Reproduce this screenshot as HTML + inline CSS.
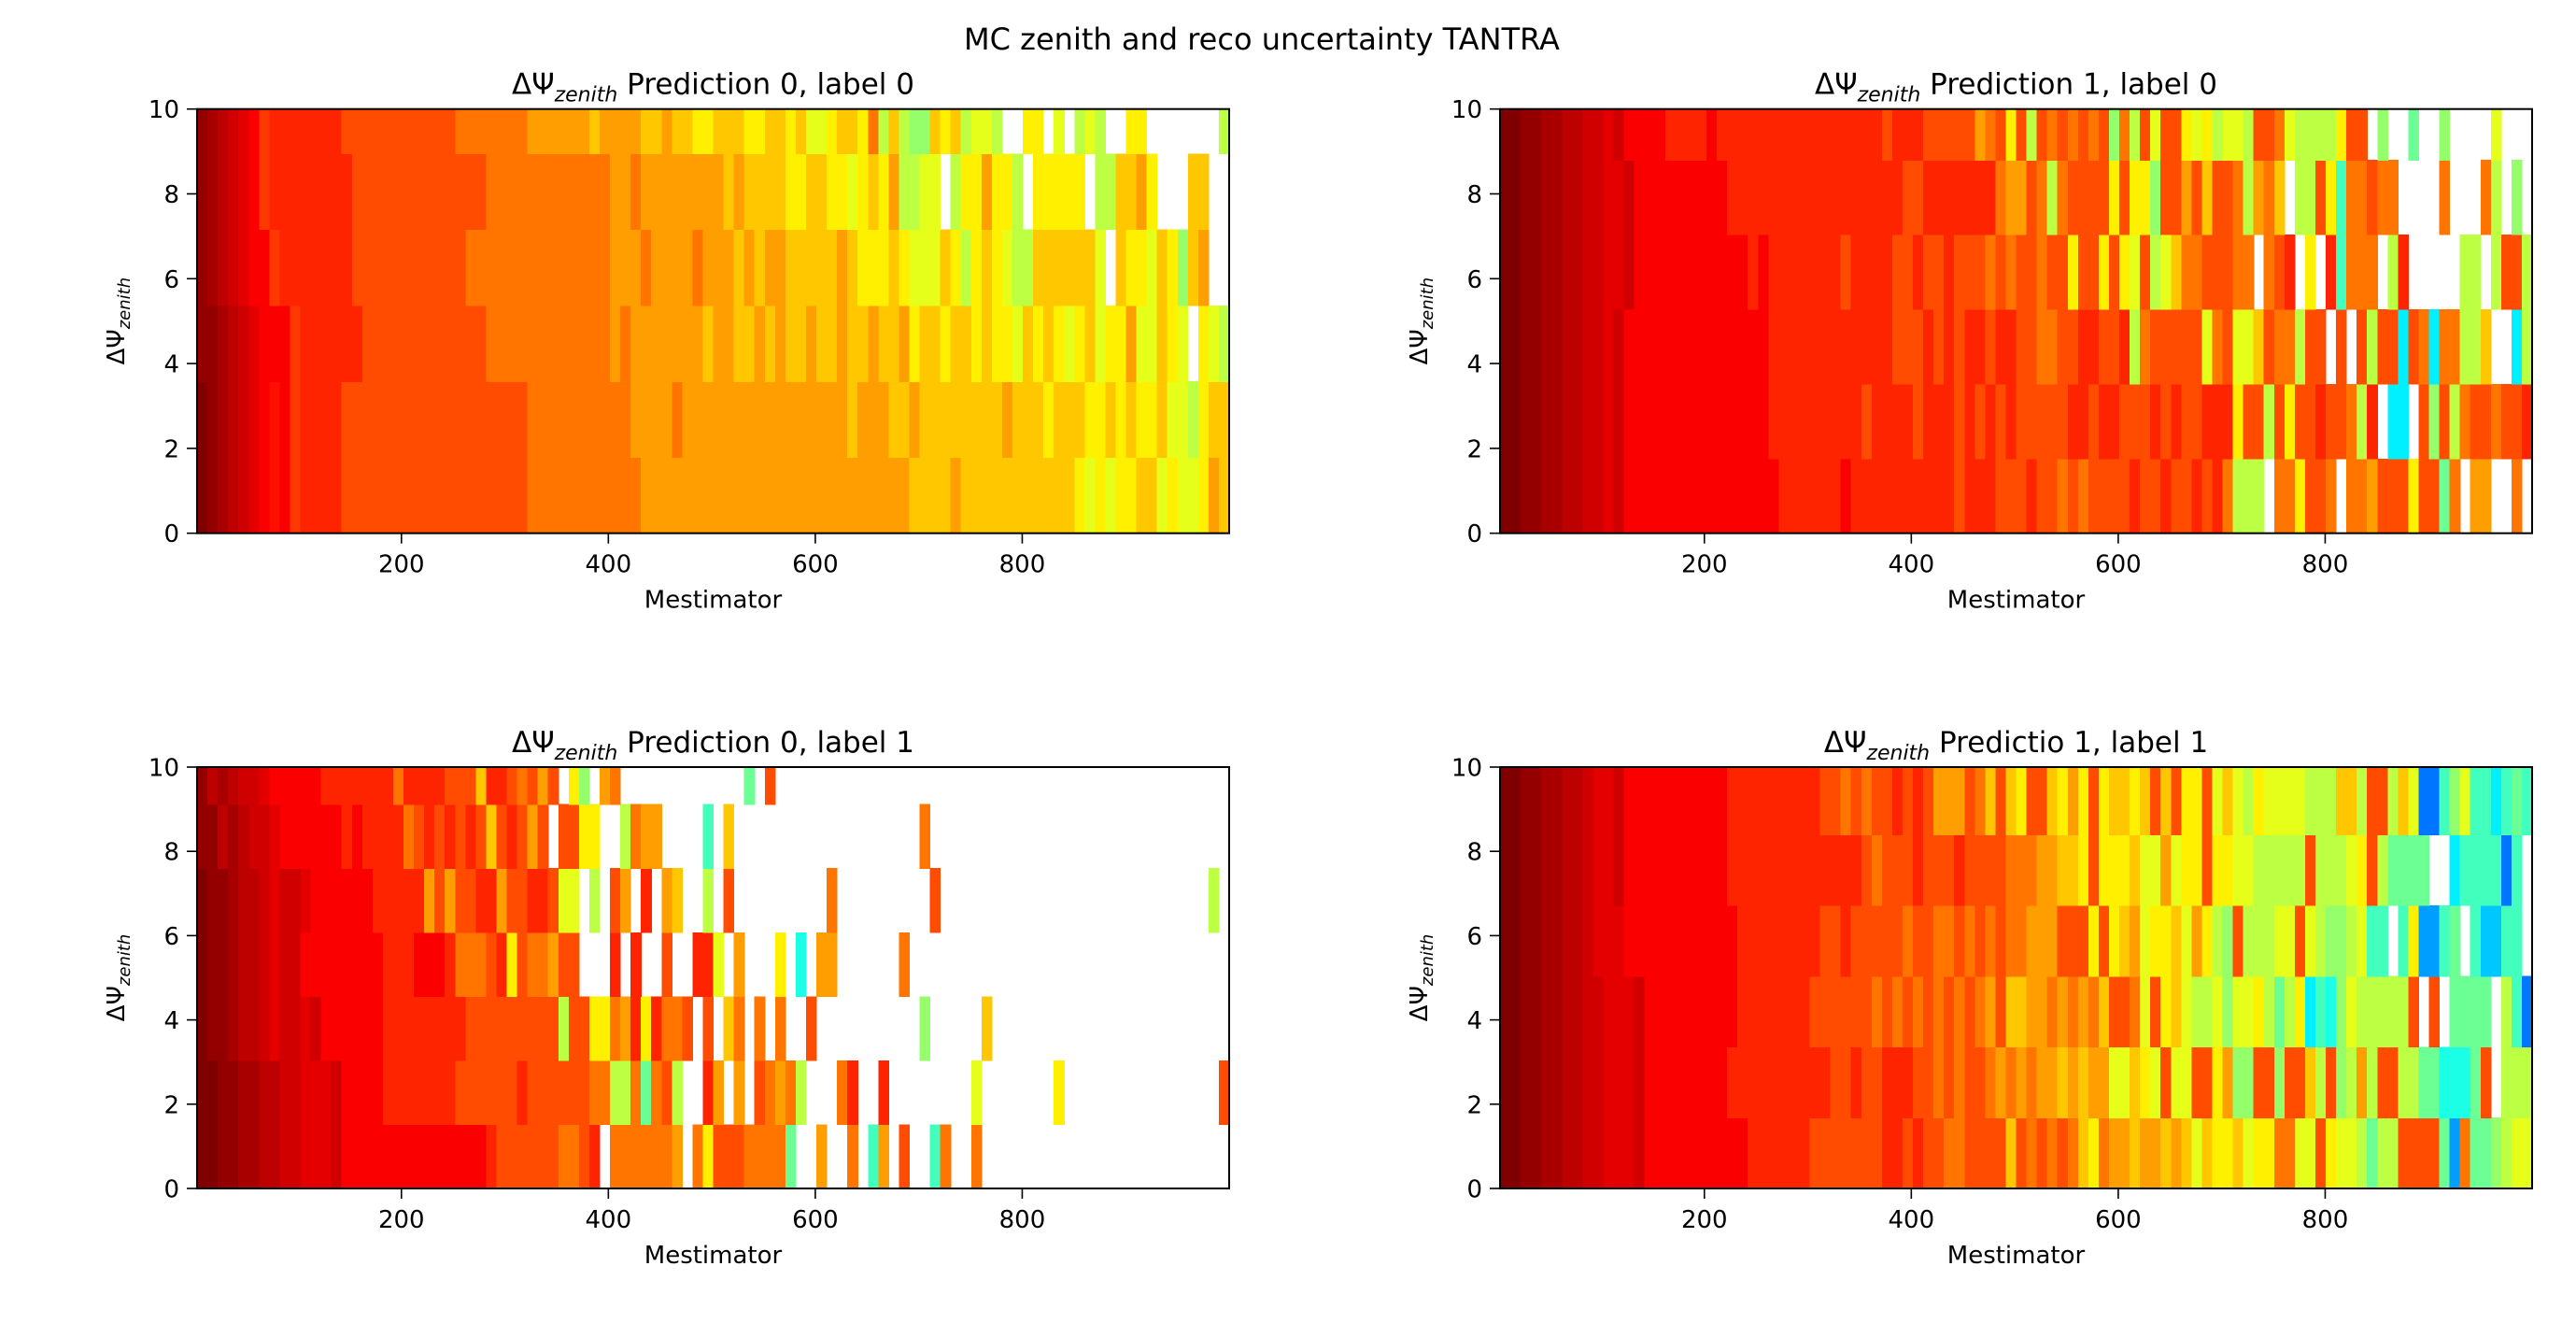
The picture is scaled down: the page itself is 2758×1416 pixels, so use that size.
<!DOCTYPE html>
<html><head><meta charset="utf-8"><title>MC zenith and reco uncertainty TANTRA</title>
<style>
html,body{margin:0;padding:0;background:#fff;}
svg{display:block;font-family:"DejaVu Sans","Liberation Sans",sans-serif;}
</style></head>
<body>
<svg id="fig" xmlns="http://www.w3.org/2000/svg" width="2758" height="1416" viewBox="0 0 2758 1416">
<rect width="2758" height="1416" fill="#fff"/>
<text x="1351" y="53" font-size="32" text-anchor="middle" fill="#000">MC zenith and reco uncertainty TANTRA</text>
</svg>
<script>
// ---- data (bins: 100 Mestimator columns, rows = ΔΨ bins; letters encode colour value, '.' = empty) ----
const xTicks = [200, 400, 600, 800];
const yTicks = [0, 2, 4, 6, 8, 10];
const xBinRange = [2.5, 1000];
const nCols = 100;
const valueScale = "AaBbCcDdEeFfGgHhIiJjKkLlMmNnOoPpQqRrSsTtUuVvWwXxYyZz";
const titles = ["Prediction 0, label 0", "Prediction 1, label 0", "Prediction 0, label 1", "Predictio 1, label 1"];
const rowHeights = [1.79, 1.76, 1.52, 1.68];

const tlRows = [
"AaBbCcDdDe"+"EEEEFFFFFF"+"FFFFFFFFFF"+"FFGGGGGGGG"+"GGGHHHHHHH"+"HHHHHHHHHH"+"HHHHHHHHHI"+"IIIHIIIIII"+"IIIIIJKJKJ"+"JIIKJKKJHI",
"AaBbCcDdDe"+"EEEEFFFFFF"+"FFFFFFFFFF"+"FFGGGGGGGG"+"GGHHHHGHHH"+"HHHHHHHHHH"+"HHHIHHHIIH"+"IIIIIIIIHI"+"IIJIIIJJIJ"+"IJJIKKLJII",
"aaBbCcDDDe"+"EEEEEEFFFF"+"FFFFFFFFGG"+"GGGGGGGGGG"+"HGHHHHHHHI"+"HHIIHIHIIH"+"IIHIIHIIHJ"+"IIJIIJIJJK"+"IJIJKJIKJJ"+"HKKIJK.JKL",
"aBbCcDDeEE"+"EEEEEFFFFF"+"FFFFFFGGGG"+"GGGGGGGGGG"+"HHHGHHHHGH"+"HHIHIHHIII"+"IIHIJJJIJK"+"KKIJLJIJKL"+"LIIIIIIK.I"+"JJKIJMIH..",
"aBbCcDeEEE"+"EEEEEFFFFF"+"FFFFFFFFGG"+"GGGGGGGGGG"+"HHGHHHHHHH"+"HIHIIIIJJI"+"IJJKJIJHLL"+"KK.LJJHJJL"+".JJJJJ.LLI"+"IHJ...II..",
"aBbCcDeEEE"+"EEEEFFFFFF"+"FFFFFGGGGG"+"GGHHHHHHIH"+"HHHIIHIIJJ"+"IIIJJIIJIK"+"KJIIJGLILM"+"MIJILKKL.."+"JJ.K.LKL.."+"JJ.......L"
];
const trRows = [
"AAaaBBbbCC"+"cCDDDDDDDD"+"DDDDDDDEEE"+"EEEDEEEEEE"+"EEEEFEEEFF"+"FEFFGFGFFF"+"FEFFEFFEFE"+"GLLL.GGJFF"+"G.GGHFFFJF"+"FNG.HH..G.",
"AAaaBBbbCC"+"cCDDDDDDDD"+"DDDDDDEEEE"+"EEEEEFEEEE"+"FEEEFEFEFE"+"FFFFFEEFEE"+"FFFEFEFFEE"+"EJFFLFJFFE"+"FFGLE.QQ.F"+"MFLGFFGFFE",
"AAaaBBbbCC"+"cCDDDDDDDD"+"DDDDDDEEEE"+"EEEEEEEEFF"+"FEFEFEEFEE"+"FFGGFFEEFF"+"ELGFFFFFKG"+"FKKIFGGLFF"+".F.FLFFQFG"+"QGGLLI..QL",
"AAaaBBbbCC"+"ccCDDDDDDD"+"DDDDEDEEEE"+"EEEFEEEEFF"+"EFFEFFFGFG"+"FFGFFJFFJF"+"JKFLKIGGFF"+"FGG.GFE.J."+"EOGGG.LE.."+"...LL.LFFL",
"AAaaBBbbCC"+"ccCDDDDDDD"+"DDEEEEEEEE"+"EEEEEEEEEF"+"FEEEEEEEGH"+"HFGLGFFFFJ"+"FJJMFFHFIF"+"FGLHGI.LLF"+"JOGGFGG..."+".G...GL.M.",
"AAaaBBbbCC"+"cCDDDDEEEE"+"DEEEEEEEEE"+"EEEEEEEFEE"+"EFFFFFHGFJ"+"FLFGFGFGFM"+"GLFKFFJKJL"+"KKLFFGKLLL"+"LJFF.M..N."+".M....K..."
];
const blRows = [
"AAaaBBbbCC"+"cccCDDDDDD"+"DDDDDDDDEF"+"FFFFFGGFE."+"GGGGGGH.GJ"+"FFFGGGGN.."+"H..G.OH.F."+".OG..G...."+".........."+"..........",
"AAaaBBbbCC"+"cccCDDDDEE"+"EEEEEFFFFF"+"FEFFFFFFGG"+"LLGNGFL..E"+"H.H.FGHGL."+"..GE..E..."+".....K...."+"...J......"+".........F",
"AaaBbbCcCC"+"cCDDDDDDEE"+"EEEEEEFFFF"+"FFFFFLFFJJ"+"GHEJEGGF.F"+".IG.G.G..F"+".........."+"M.....I..."+".........."+"..........",
"AaaBbbCcCC"+"DDDDDDDDEE"+"EDDDEGGGFE"+"JFGGHFF..."+"E.E..F..EE"+"K.H...J.P."+"HH......G."+".........."+".........."+"..........",
"AaaBbbCcCC"+"cDDDDDDEEE"+"EEHFHFFEEH"+"FFEEFKK.L."+"FH.E.HI..L"+".F........"+".G........"+".F........"+".........."+"........L.",
"aabBbCCcDD"+"DDDDEDEEEE"+"GFEFEFEFIF"+"EFHF.FFJJ."+".LGHH....O"+".I........"+".........."+"G........."+".........."+"..........",
"abBbCCcDDD"+"DDEEEEEEEG"+"EEEEFFFIEE"+"FGFHF.JM.H"+"G........."+"...N.F...."+".........."+".........."+".........."+".........."
];
const brRows = [
"AAaaBBbbCC"+"cccCDDDDDD"+"DDDDEEEEEE"+"FFFFFFFEEF"+"EFFGGFFFFI"+"FGFGFGIJGH"+"HIHHIHIKIJ"+"JIKJJGGKKF"+"JKKLNLLFFF"+"FNSGNNMLKK",
"AAaaBBbbCC"+"cccCDDDDDD"+"DDEEEEEEEE"+"EEFFEFFEEE"+"FFGFGFFGHG"+"HGHHIHIHHK"+"KIJKFKKFFJ"+"HMMFFMFFIL"+"FMLHLFFLLN"+"NPPPNF.LLL",
"AAaaBBbbCC"+"cccCDDDDDD"+"DDDEEEEEEE"+"FFFFFFGFGF"+"GFGFGFGHFI"+"IHHGHGHGIF"+"FGKFJIKLLK"+"MKKJLNLJQO"+"PMKLLLLLF."+"F.NNNN.LOT",
"AAaaBBbbCc"+"ccDDDDDDDD"+"DDDEEEEEEE"+"EFFEFFFFFG"+"FFGGFGFGFG"+"GHHHFFFJFJ"+"IHKJJIKHJL"+"MFLLLKKFKL"+"MMLKOO.OJS"+"SON.ORROO.",
"AAaaBBbbCc"+"cCDDDDDDDD"+"DDEEEEEEEE"+"EEEEEFGFFF"+"EFFFEFFFFG"+"GGHHIIJFJJ"+"JIKKHKJJFJ"+"JKKLLLLLFL"+"LLKJFLNNNN"+"..QOOOOTO.",
"AAaaBBbbCc"+"cCDDDDDDDD"+"DDEEEEEEEE"+"EFFGFGFFEF"+"EFHHHFGIFI"+"JFFIJHJFJI"+"IJIFIFJJFK"+"IKLJKKKKLL"+"LIILFFLIKT"+"TOMKOOQONO"
];

// ---- layout ----
const panels = [
  {rows: tlRows, left: 211, right: 1316, top: 116.7, bottom: 570.7, name: "pred0-label0"},
  {rows: trRows, left: 1606, right: 2711, top: 116.7, bottom: 570.7, name: "pred1-label0"},
  {rows: blRows, left: 211, right: 1316, top: 821, bottom: 1272, name: "pred0-label1"},
  {rows: brRows, left: 1606, right: 2711, top: 821, bottom: 1272, name: "pred1-label1"}
];
const NS = "http://www.w3.org/2000/svg";
const svg = document.getElementById("fig");

function jet(v) {
  const c = x => Math.max(0, Math.min(1, x));
  const r = c(1.5 - Math.abs(4 * v - 3)), g = c(1.5 - Math.abs(4 * v - 2)), b = c(1.5 - Math.abs(4 * v - 1));
  return "rgb(" + Math.round(r * 255) + "," + Math.round(g * 255) + "," + Math.round(b * 255) + ")";
}
function mk(tag, attrs, parent) {
  const e = document.createElementNS(NS, tag);
  for (const k in attrs) e.setAttribute(k, attrs[k]);
  (parent || svg).appendChild(e);
  return e;
}

panels.forEach((p, pi) => {
  const xs = v => p.left + (v - xBinRange[0]) / (xBinRange[1] - xBinRange[0]) * (p.right - p.left);
  const ys = v => p.bottom - v / 10 * (p.bottom - p.top);
  const g = mk("g", {});
  
  
  const clip = mk("clipPath", {id: "clip" + pi}, g);
  mk("rect", {x: p.left, y: p.top, width: p.right - p.left, height: p.bottom - p.top}, clip);
  const cells = mk("g", {"clip-path": "url(#clip" + pi + ")", "shape-rendering": "crispEdges"}, g);
  const bw = (xBinRange[1] - xBinRange[0]) / nCols;
  const rh = rowHeights[pi];
  p.rows.forEach((row, ri) => {
    for (let k = 0; k < row.length; k++) {
      const ch = row[k];
      const idx = valueScale.indexOf(ch);
      if (idx < 0) continue;
      const v = 1 - idx * 0.02;
      const x0 = xs(xBinRange[0] + k * bw), x1 = xs(xBinRange[0] + (k + 1) * bw);
      const y0 = ys(ri * rh), y1 = ys((ri + 1) * rh);
      const r = mk("rect", {x: x0, y: y1, width: x1 - x0 + 0.6, height: y0 - y1 + 0.6, fill: jet(v)}, cells);
      
      
    }
  });
  const frame = mk("rect", {x: p.left, y: p.top, width: p.right - p.left, height: p.bottom - p.top, fill: "none", stroke: "#000", "stroke-width": 2}, g);
  
  
  xTicks.forEach(t => {
    const x = xs(t);
    const tk = mk("line", {x1: x, x2: x, y1: p.bottom, y2: p.bottom + 11, stroke: "#000", "stroke-width": 1.6}, g);
    
    
    const tl = mk("text", {x: x, y: p.bottom + 42, "font-size": 26, "text-anchor": "middle", fill: "#000"}, g);
    tl.textContent = t;
    
    
  });
  yTicks.forEach(t => {
    const y = ys(t);
    const tk = mk("line", {x1: p.left - 11, x2: p.left, y1: y, y2: y, stroke: "#000", "stroke-width": 1.6}, g);
    
    
    const tl = mk("text", {x: p.left - 19, y: y + 9.5, "font-size": 26, "text-anchor": "end", fill: "#000"}, g);
    tl.textContent = t;
    
    
  });
  const xl = mk("text", {x: (p.left + p.right) / 2, y: p.bottom + 80, "font-size": 26, "text-anchor": "middle", fill: "#000"}, g);
  xl.textContent = "Mestimator";
  
  
  const cy = (p.top + p.bottom) / 2, cx = p.left - 78;
  const yl = mk("text", {x: cx, y: cy, "font-size": 26, "text-anchor": "middle", fill: "#000", transform: "rotate(-90 " + cx + " " + cy + ")"}, g);
  
  
  yl.appendChild(document.createTextNode("ΔΨ"));
  const ysub = mk("tspan", {"font-size": 18, "font-style": "italic", dy: 6}, yl);
  ysub.textContent = "zenith";
  const tt = mk("text", {x: (p.left + p.right) / 2, y: p.top - 16, "font-size": 31, "text-anchor": "middle", fill: "#000"}, g);
  
  
  tt.appendChild(document.createTextNode("ΔΨ"));
  const sub = mk("tspan", {"font-size": 22, "font-style": "italic", dy: 8}, tt);
  sub.textContent = "zenith";
  const rest = mk("tspan", {dy: -8}, tt);
  rest.textContent = " " + titles[pi];
});
</script>
</body></html>
